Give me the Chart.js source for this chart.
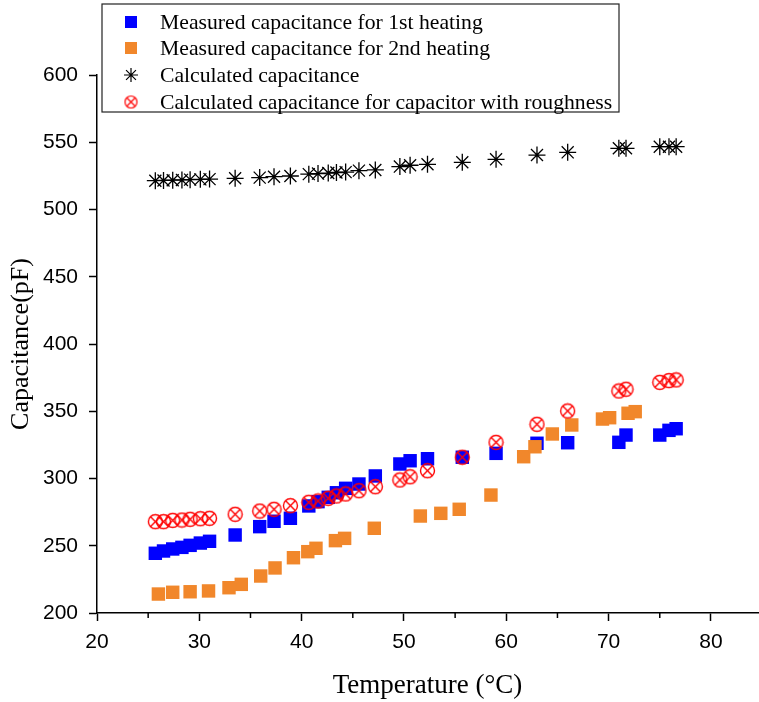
<!DOCTYPE html>
<html>
<head>
<meta charset="utf-8">
<script src="https://cdn.jsdelivr.net/npm/chart.js@4.4.0/dist/chart.umd.min.js"></script>
<style>
  html,body{margin:0;padding:0;background:#fff;}
  .wrap{width:759px;height:702px;}
</style>
</head>
<body>
<div class="wrap"><canvas id="chart" width="759" height="702"></canvas></div>
<script>
// temperatures of the 1st heating run (also used for the calculated curves)
const temp1st = [25.7,26.5,27.4,28.3,29.1,30.1,31.0,33.5,35.9,37.3,38.9,40.7,41.6,42.6,43.4,44.3,45.6,47.2,49.6,50.6,52.3,55.7,59.0,63.0,66.0,71.0,71.7,75.0,75.9,76.6];
const cap1st = [244.4,246.1,247.6,248.8,250.3,252.0,253.3,258.0,264.2,268.2,270.4,279.6,282.8,286.0,289.4,292.7,295.9,301.9,310.8,313.2,314.7,315.8,318.7,326.2,326.6,326.9,332.3,332.3,335.8,337.0];
const capCalc = [521.4,521.6,521.8,522.0,522.2,522.4,522.6,523.2,523.7,524.4,524.9,526.3,526.7,527.1,527.5,527.8,528.9,529.4,531.9,532.9,533.6,535.1,537.3,540.5,542.5,545.5,545.5,546.7,546.7,546.7];
const capRough = [267.9,267.9,268.9,269.1,269.7,270.1,270.4,273.4,275.8,277.1,279.8,282.3,283.3,285.3,287.0,288.5,290.9,293.9,298.9,301.3,305.8,315.8,326.9,340.3,350.2,365.1,366.4,371.5,372.8,373.3];
// 2nd heating run
const temp2nd = [26.0,27.4,29.1,30.9,32.9,34.1,36.0,37.4,39.2,40.6,41.4,43.3,44.2,47.1,51.6,53.6,55.4,58.5,61.7,62.8,64.5,66.4,69.4,70.1,71.9,72.6];
const cap2nd = [214.1,215.4,215.8,216.4,218.8,221.3,227.5,233.5,241.1,245.6,248.1,253.8,255.5,263.0,272.1,274.1,277.1,287.7,316.2,323.6,333.1,339.8,344.2,345.2,348.5,349.7];

const seriesNames = ['Measured capacitance for 1st heating','Measured capacitance for 2nd heating','Calculated capacitance','Calculated capacitance for capacitor with roughness'];
const xTickVals = [20,30,40,50,60,70,80];
const xMinorVals = [25,35,45,55,65,75];
const yTickVals = [200,250,300,350,400,450,500,550,600];

const toPts = (xs,ys)=>xs.map((x,i)=>({x:x,y:ys[i]}));

// circle with an x inside, used as point style
function makeCircleX(r,lw,col){
    const c=document.createElement('canvas');
    const s=Math.ceil(2*r+lw*2);
    c.width=s;c.height=s;
    const g=c.getContext('2d');
    const m=s/2;
    g.strokeStyle=col;g.lineWidth=lw;
    g.beginPath();g.arc(m,m,r,0,Math.PI*2);g.stroke();
    const d=r*Math.SQRT1_2;
    g.beginPath();
    g.moveTo(m-d,m-d);g.lineTo(m+d,m+d);
    g.moveTo(m+d,m-d);g.lineTo(m-d,m+d);
    g.stroke();
    return c;
}
const circleX = makeCircleX(7,1.4,'#ff0000');
const circleXsmall = makeCircleX(6,1.2,'#ff0000');

const BLUE='#0000ff', ORANGE='rgb(241,135,43)';
const serif='"Liberation Serif", "Times New Roman", serif';
const sans='"Liberation Sans", Arial, sans-serif';

const minorTicks={
    id:'minorTicks',
    afterDraw(chart){
        const ctx=chart.ctx, xs=chart.scales.x, bot=chart.chartArea.bottom;
        ctx.save();
        ctx.strokeStyle='#000';ctx.lineWidth=1.5;
        xMinorVals.forEach(v=>{
            const px=xs.getPixelForValue(v);
            ctx.beginPath();ctx.moveTo(px,bot);ctx.lineTo(px,bot+5);ctx.stroke();
        });
        ctx.restore();
    }
};

const boxLegend={
    id:'boxLegend',
    afterDraw(chart){
        const ctx=chart.ctx;
        ctx.save();
        ctx.fillStyle='#fff';
        ctx.fillRect(102,4,517,108);
        ctx.strokeStyle='#222';ctx.lineWidth=1.2;
        ctx.strokeRect(102,4,517,108);
        const rows=[22,48,75,102];
        const styles=[
            {pointStyle:'rect',radius:8.5,fill:BLUE,stroke:BLUE,bw:0},
            {pointStyle:'rect',radius:8.5,fill:ORANGE,stroke:ORANGE,bw:0},
            {pointStyle:'star',radius:7,fill:'#000',stroke:'#000',bw:1.2},
            {pointStyle:circleXsmall,radius:6,fill:'#f00',stroke:'#f00',bw:1}
        ];
        ctx.font='21.7px '+serif;
        ctx.textBaseline='middle';
        seriesNames.forEach((name,i)=>{
            const st=styles[i];
            ctx.fillStyle=st.fill;ctx.strokeStyle=st.stroke;ctx.lineWidth=st.bw;
            Chart.helpers.drawPoint(ctx,{pointStyle:st.pointStyle,rotation:0,radius:st.radius,borderWidth:st.bw},131,rows[i]);
            ctx.fillStyle='#000';
            ctx.fillText(name,160,rows[i]+1);
        });
        ctx.restore();
    }
};

new Chart(document.getElementById('chart'),{
    type:'scatter',
    data:{
        datasets:[
            {label:seriesNames[0],data:toPts(temp1st,cap1st),pointStyle:'rect',pointRadius:9.5,borderWidth:0,backgroundColor:BLUE,borderColor:BLUE,order:3},
            {label:seriesNames[1],data:toPts(temp2nd,cap2nd),pointStyle:'rect',pointRadius:9.5,borderWidth:0,backgroundColor:ORANGE,borderColor:ORANGE,order:2},
            {label:seriesNames[2],data:toPts(temp1st,capCalc),pointStyle:'star',pointRadius:8.5,borderWidth:1.3,backgroundColor:'#000',borderColor:'#000',order:1},
            {label:seriesNames[3],data:toPts(temp1st,capRough),pointStyle:circleX,pointRadius:7,borderWidth:1,backgroundColor:'#f00',borderColor:'#f00',order:0}
        ]
    },
    options:{
        responsive:false,
        animation:false,
        layout:{autoPadding:false,padding:{top:75,right:1,left:0,bottom:0}},
        plugins:{legend:{display:false},tooltip:{enabled:false}},
        scales:{
            x:{
                type:'linear',min:20,max:84.6,
                afterBuildTicks:s=>{s.ticks=xTickVals.map(v=>({value:v}));},
                afterFit:s=>{s.height=89;s.paddingLeft=0;s.paddingRight=0;},
                ticks:{color:'#000',padding:9,font:{family:sans,size:21},maxRotation:0},
                grid:{drawOnChartArea:false,drawTicks:true,tickLength:8,tickColor:'#000',tickWidth:1.5},
                border:{display:true,color:'#000',width:1.5},
                title:{display:true,text:'Temperature (°C)',color:'#000',padding:{top:2,bottom:0},font:{family:serif,size:27}}
            },
            y:{
                type:'linear',min:200,max:600,
                afterBuildTicks:s=>{s.ticks=yTickVals.map(v=>({value:v}));},
                afterFit:s=>{s.width=97;s.paddingTop=0;s.paddingBottom=0;},
                ticks:{color:'#000',padding:11,font:{family:sans,size:21}},
                grid:{drawOnChartArea:false,drawTicks:true,tickLength:8,tickColor:'#000',tickWidth:1.5},
                border:{display:true,color:'#000',width:1.5},
                title:{display:true,text:'Capacitance(pF)',color:'#000',padding:{top:6,bottom:0},font:{family:serif,size:26}}
            }
        }
    },
    plugins:[minorTicks,boxLegend]
});
</script>
</body>
</html>
